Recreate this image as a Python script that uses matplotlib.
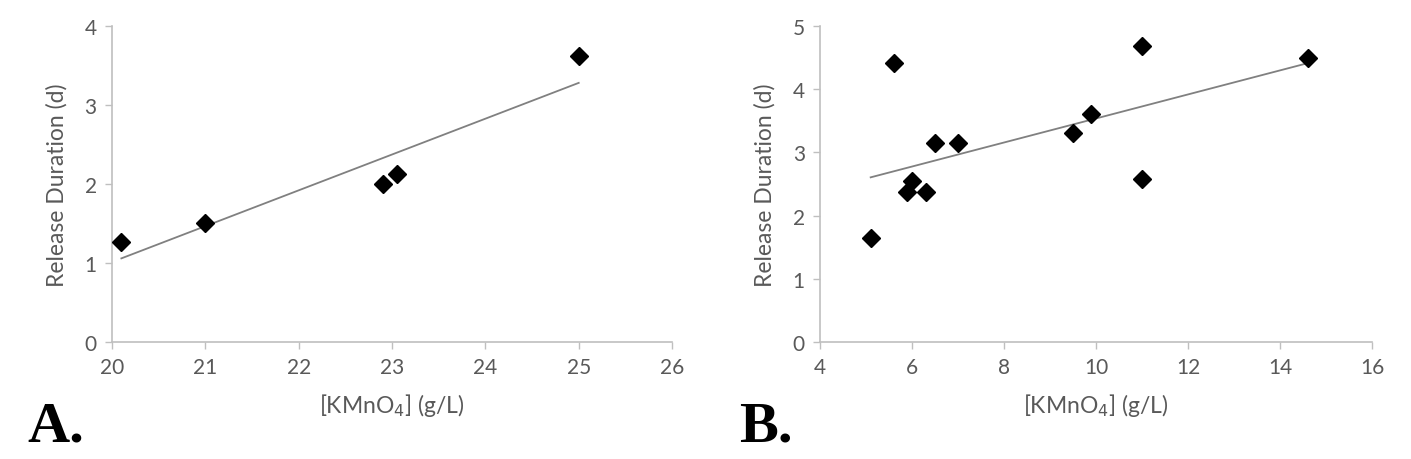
import numpy as np
from matplotlib import pyplot as plt

# panel A data
a_conc = [20.1, 21.0, 22.9, 23.05, 25.0]
a_dur = [1.27, 1.51, 2.0, 2.13, 3.62]

# panel B data
b_conc = [5.1, 5.6, 5.9, 6.0, 6.3, 6.5, 7.0, 9.5, 9.9, 11.0, 11.0, 14.6]
b_dur = [1.65, 4.42, 2.38, 2.55, 2.38, 3.15, 3.15, 3.3, 3.6, 4.68, 2.58, 4.5]

a_xticks = [20, 21, 22, 23, 24, 25, 26]
a_yticks = [0, 1, 2, 3, 4]
b_xticks = [4, 6, 8, 10, 12, 14, 16]
b_yticks = [0, 1, 2, 3, 4, 5]

plt.rcParams['font.family'] = ['Lato', 'DejaVu Sans']
txt = '#595959'
spine = '#bfbfbf'

fig = plt.figure(figsize=(14.11, 4.6), dpi=100)
ax1 = fig.add_axes([0.0794, 0.2543, 0.3969, 0.6870])
ax2 = fig.add_axes([0.5812, 0.2543, 0.3912, 0.6870])


def panel(ax, x, y, xt, yt):
    x = np.array(x)
    y = np.array(y)
    k, b = np.polyfit(x, y, 1)
    xs = np.array([x.min(), x.max()])
    ax.plot(xs, k * xs + b, color='#808080', lw=1.3, zorder=2)
    ax.plot(x, y, 'D', color='black', ms=9.5, zorder=3)
    ax.set_xlim(xt[0], xt[-1])
    ax.set_ylim(yt[0], yt[-1])
    ax.set_xticks(xt)
    ax.set_yticks(yt)
    for s in ['top', 'right']:
        ax.spines[s].set_visible(False)
    for s in ['left', 'bottom']:
        ax.spines[s].set_color(spine)
        ax.spines[s].set_linewidth(1.2)
    ax.tick_params(direction='out', length=5, width=1.0, color=spine,
                   labelcolor=txt, labelsize=15, pad=6)
    ax.set_ylabel('Release Duration (d)', fontsize=16.5, color=txt, labelpad=12)
    ax.set_xlabel('[KMnO$_4$] (g/L)', fontsize=16.5, color=txt, labelpad=10)


panel(ax1, a_conc, a_dur, a_xticks, a_yticks)
panel(ax2, b_conc, b_dur, b_xticks, b_yticks)

fig.text(27 / 1411, 0.041, 'A.', fontsize=42, fontweight='bold',
         family='Liberation Serif', va='baseline', ha='left')
fig.text(739 / 1411, 0.041, 'B.', fontsize=42, fontweight='bold',
         family='Liberation Serif', va='baseline', ha='left')

fig.savefig('out.png', dpi=100)
